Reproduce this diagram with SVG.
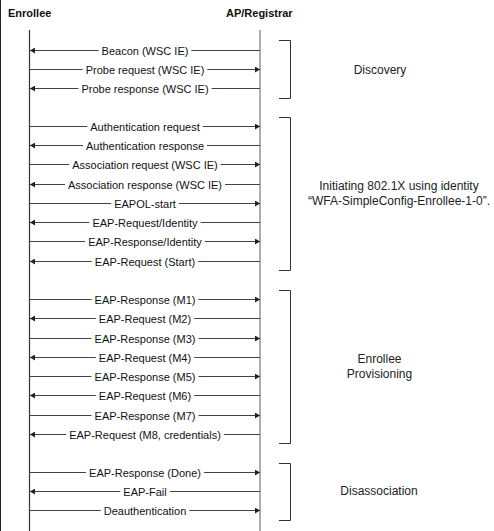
<svg xmlns="http://www.w3.org/2000/svg" width="494" height="531" viewBox="0 0 494 531">
<style>
.hdr{font-family:"Liberation Sans",Arial,sans-serif;font-size:11px;font-weight:bold;fill:#111}
.msg{font-family:"Liberation Sans",Arial,sans-serif;font-size:11px;fill:#111;text-anchor:middle}
.grp{font-family:"Liberation Sans",Arial,sans-serif;font-size:12px;fill:#222;text-anchor:middle}
.ln{stroke:#444;stroke-width:1;fill:none}
.br{stroke:#333;stroke-width:1;fill:none}
</style>
<defs>
<marker id="ah" viewBox="0 0 5 6" refX="5" refY="3" markerWidth="5" markerHeight="6" markerUnits="userSpaceOnUse" orient="auto">
<path d="M0,0 L5,3 L0,6 z" fill="#222"/>
</marker>
</defs>
<rect x="0" y="0" width="494" height="531" fill="#fff"/>
<line x1="0.5" y1="0" x2="0.5" y2="531" stroke="#222" stroke-width="1"/>
<g id="enrollee">
<text class="hdr" x="8" y="17">Enrollee</text>
<line x1="29.5" y1="30" x2="29.5" y2="531" stroke="#333" stroke-width="1.2"/>
</g>
<g id="ap-registrar">
<text class="hdr" x="226" y="17">AP/Registrar</text>
<line x1="260" y1="30" x2="260" y2="531" stroke="#999" stroke-width="1.6"/>
</g>
<g id="connectors">
<!-- Beacon ← -->
<line class="ln" x1="98.6" y1="50.5" x2="30" y2="50.5" marker-end="url(#ah)"/>
<line class="ln" x1="191.4" y1="50.5" x2="260" y2="50.5"/>
<text class="msg" x="145" y="54.5">Beacon (WSC IE)</text>
<!-- Probe request → -->
<line class="ln" x1="30" y1="69.5" x2="82.7" y2="69.5"/>
<line class="ln" x1="207.3" y1="69.5" x2="260" y2="69.5" marker-end="url(#ah)"/>
<text class="msg" x="145" y="73.5">Probe request (WSC IE)</text>
<!-- Probe response ← -->
<line class="ln" x1="78.4" y1="88.5" x2="30" y2="88.5" marker-end="url(#ah)"/>
<line class="ln" x1="211.6" y1="88.5" x2="260" y2="88.5"/>
<text class="msg" x="145" y="92.5">Probe response (WSC IE)</text>
<!-- Authentication request → -->
<line class="ln" x1="30" y1="126.5" x2="87.3" y2="126.5"/>
<line class="ln" x1="202.7" y1="126.5" x2="260" y2="126.5" marker-end="url(#ah)"/>
<text class="msg" x="145" y="130.5">Authentication request</text>
<!-- Authentication response ← -->
<line class="ln" x1="83" y1="145.5" x2="30" y2="145.5" marker-end="url(#ah)"/>
<line class="ln" x1="207" y1="145.5" x2="260" y2="145.5"/>
<text class="msg" x="145" y="149.5">Authentication response</text>
<!-- Association request → -->
<line class="ln" x1="30" y1="164.5" x2="69.2" y2="164.5"/>
<line class="ln" x1="220.8" y1="164.5" x2="260" y2="164.5" marker-end="url(#ah)"/>
<text class="msg" x="145" y="168.5">Association request (WSC IE)</text>
<!-- Association response ← -->
<line class="ln" x1="65" y1="184.5" x2="30" y2="184.5" marker-end="url(#ah)"/>
<line class="ln" x1="225" y1="184.5" x2="260" y2="184.5"/>
<text class="msg" x="145" y="188.5">Association response (WSC IE)</text>
<!-- EAPOL-start → -->
<line class="ln" x1="30" y1="203.5" x2="111.1" y2="203.5"/>
<line class="ln" x1="178.9" y1="203.5" x2="260" y2="203.5" marker-end="url(#ah)"/>
<text class="msg" x="145" y="207.5">EAPOL-start</text>
<!-- EAP-Request/Identity ← -->
<line class="ln" x1="89.4" y1="222.5" x2="30" y2="222.5" marker-end="url(#ah)"/>
<line class="ln" x1="200.6" y1="222.5" x2="260" y2="222.5"/>
<text class="msg" x="145" y="226.5">EAP-Request/Identity</text>
<!-- EAP-Response/Identity → -->
<line class="ln" x1="30" y1="241.5" x2="85.1" y2="241.5"/>
<line class="ln" x1="204.9" y1="241.5" x2="260" y2="241.5" marker-end="url(#ah)"/>
<text class="msg" x="145" y="245.5">EAP-Response/Identity</text>
<!-- EAP-Request (Start) ← -->
<line class="ln" x1="91.8" y1="261.5" x2="30" y2="261.5" marker-end="url(#ah)"/>
<line class="ln" x1="198.2" y1="261.5" x2="260" y2="261.5"/>
<text class="msg" x="145" y="265.5">EAP-Request (Start)</text>
<!-- M1 → -->
<line class="ln" x1="30" y1="299.5" x2="91.5" y2="299.5"/>
<line class="ln" x1="198.5" y1="299.5" x2="260" y2="299.5" marker-end="url(#ah)"/>
<text class="msg" x="145" y="303.5">EAP-Response (M1)</text>
<!-- M2 ← -->
<line class="ln" x1="95.8" y1="318.5" x2="30" y2="318.5" marker-end="url(#ah)"/>
<line class="ln" x1="194.2" y1="318.5" x2="260" y2="318.5"/>
<text class="msg" x="145" y="322.5">EAP-Request (M2)</text>
<!-- M3 → -->
<line class="ln" x1="30" y1="338.5" x2="91.5" y2="338.5"/>
<line class="ln" x1="198.5" y1="338.5" x2="260" y2="338.5" marker-end="url(#ah)"/>
<text class="msg" x="145" y="342.5">EAP-Response (M3)</text>
<!-- M4 ← -->
<line class="ln" x1="95.8" y1="357.5" x2="30" y2="357.5" marker-end="url(#ah)"/>
<line class="ln" x1="194.2" y1="357.5" x2="260" y2="357.5"/>
<text class="msg" x="145" y="361.5">EAP-Request (M4)</text>
<!-- M5 → -->
<line class="ln" x1="30" y1="376.5" x2="91.5" y2="376.5"/>
<line class="ln" x1="198.5" y1="376.5" x2="260" y2="376.5" marker-end="url(#ah)"/>
<text class="msg" x="145" y="380.5">EAP-Response (M5)</text>
<!-- M6 ← -->
<line class="ln" x1="95.8" y1="395.5" x2="30" y2="395.5" marker-end="url(#ah)"/>
<line class="ln" x1="194.2" y1="395.5" x2="260" y2="395.5"/>
<text class="msg" x="145" y="399.5">EAP-Request (M6)</text>
<!-- M7 → -->
<line class="ln" x1="30" y1="415.5" x2="91.5" y2="415.5"/>
<line class="ln" x1="198.5" y1="415.5" x2="260" y2="415.5" marker-end="url(#ah)"/>
<text class="msg" x="145" y="419.5">EAP-Response (M7)</text>
<!-- M8 ← -->
<line class="ln" x1="66.2" y1="434.5" x2="30" y2="434.5" marker-end="url(#ah)"/>
<line class="ln" x1="223.8" y1="434.5" x2="260" y2="434.5"/>
<text class="msg" x="145" y="438.5">EAP-Request (M8, credentials)</text>
<!-- Done → -->
<line class="ln" x1="30" y1="472.5" x2="86" y2="472.5"/>
<line class="ln" x1="204" y1="472.5" x2="260" y2="472.5" marker-end="url(#ah)"/>
<text class="msg" x="145" y="476.5">EAP-Response (Done)</text>
<!-- EAP-Fail ← -->
<line class="ln" x1="120.3" y1="491.5" x2="30" y2="491.5" marker-end="url(#ah)"/>
<line class="ln" x1="169.7" y1="491.5" x2="260" y2="491.5"/>
<text class="msg" x="145" y="495.5">EAP-Fail</text>
<!-- Deauthentication → -->
<line class="ln" x1="30" y1="510.5" x2="100.7" y2="510.5"/>
<line class="ln" x1="189.3" y1="510.5" x2="260" y2="510.5" marker-end="url(#ah)"/>
<text class="msg" x="145" y="514.5">Deauthentication</text>
</g>
<g id="discovery">
<path class="br" d="M279,40.5 H290.5 V98.5 H279"/>
<text class="grp" x="380" y="74">Discovery</text>
</g>
<g id="initiating-8021x">
<path class="br" d="M279,117.5 H290.5 V270.5 H279"/>
<text class="grp" x="399" y="190">Initiating 802.1X using identity</text>
<text class="grp" x="399" y="205">“WFA-SimpleConfig-Enrollee-1-0”.</text>
</g>
<g id="enrollee-provisioning">
<path class="br" d="M279,290.5 H290.5 V443.5 H279"/>
<text class="grp" x="379.5" y="363">Enrollee</text>
<text class="grp" x="379.5" y="378">Provisioning</text>
</g>
<g id="disassociation">
<path class="br" d="M279,463.5 H290.5 V520.5 H279"/>
<text class="grp" x="379" y="495">Disassociation</text>
</g>
</svg>
